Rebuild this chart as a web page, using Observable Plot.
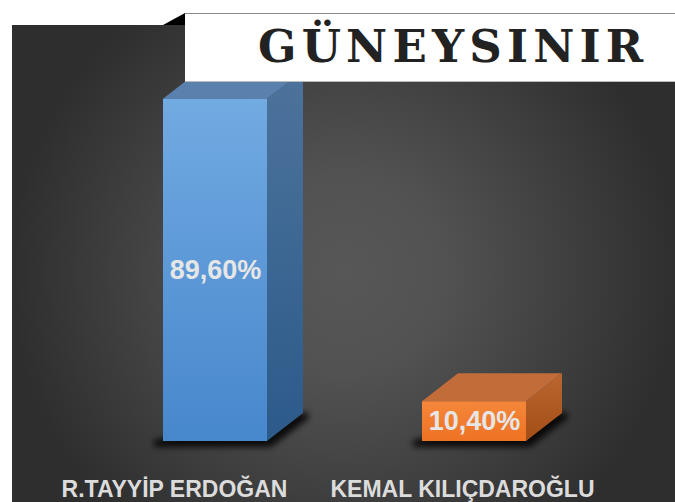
<!DOCTYPE html>
<html>
<head>
<meta charset="utf-8">
<script src="https://cdn.jsdelivr.net/npm/d3@7"></script>
<script src="https://cdn.jsdelivr.net/npm/@observablehq/plot@0.6"></script>
<style>
  html, body { margin: 0; padding: 0; background: #fff; }
  #wrap { position: relative; width: 675px; height: 502px; overflow: hidden; }
  #panel { position: absolute; left: 12px; top: 25px; right: 0; bottom: 0;
    background: radial-gradient(ellipse 335px 330px at 50% 52%, #575757 0%, #525252 30%, #434343 60%, #2e2e2e 100%); }
  #chart { position: absolute; left: 0; top: 0; }
  #titlebox { position: absolute; left: 185px; top: 13px; width: 490px; height: 69px; background: #fff;
    border-top: 1px solid #8a8a8a; border-bottom: 1px solid #bbb; box-sizing: border-box; }
  #titlebox span { position: absolute; left: 73px; top: 50%; transform: translateY(-52%);
    font-family: "DejaVu Serif", serif; font-weight: bold; font-size: 45px; letter-spacing: 5.2px; color: #222; white-space: nowrap; }
  #fold { position: absolute; left: 163px; top: 13px; width: 22px; height: 12px; background: #000;
    clip-path: polygon(0 100%, 100% 0, 100% 100%); }
</style>
</head>
<body>
<div id="wrap">
  <div id="panel"></div>
  <div id="chart"></div>
  <div id="fold"></div>
  <div id="titlebox"><span id="title"></span></div>
</div>
<script>
const titleText = "GÜNEYSINIR";
const candidates = ["R.TAYYİP ERDOĞAN", "KEMAL KILIÇDAROĞLU"];
const shares = [89.6, 10.4];
const faceColors = [
  {frontTop: "#72aae2", frontBottom: "#4787cc", sideTop: "#4d739c", sideBottom: "#2c5a8a", top: "#5a80ae"},
  {frontTop: "#f5873a", frontBottom: "#ee7224", sideTop: "#bb6530", sideBottom: "#a34e16", top: "#c26c3a"}
];

document.getElementById("title").textContent = titleText;

const data = candidates.map((name, i) => ({name, value: shares[i], i}));
const fmt = v => v.toFixed(2).replace(".", ",") + "%";
const depth = {dx: 36, dy: -28};

function bars3d(index, scales) {
  const x = scales.x, y = scales.y;
  const bw = typeof x.bandwidth === "function" ? x.bandwidth() : x.bandwidth;
  const g = d3.create("svg:g");
  const defs = g.append("defs");
  const f = defs.append("filter").attr("id", "shadowblur").attr("x", "-20%").attr("y", "-50%").attr("width", "140%").attr("height", "200%");
  f.append("feGaussianBlur").attr("stdDeviation", 3);
  data.forEach((d, k) => {
    const c = faceColors[k];
    const lf = defs.append("linearGradient").attr("id", "front" + k).attr("x1", 0).attr("y1", 0).attr("x2", 0).attr("y2", 1);
    lf.append("stop").attr("offset", "0%").attr("stop-color", c.frontTop);
    lf.append("stop").attr("offset", "100%").attr("stop-color", c.frontBottom);
    const ls = defs.append("linearGradient").attr("id", "side" + k).attr("x1", 0).attr("y1", 0).attr("x2", 0).attr("y2", 1);
    ls.append("stop").attr("offset", "0%").attr("stop-color", c.sideTop);
    ls.append("stop").attr("offset", "100%").attr("stop-color", c.sideBottom);
  });
  data.forEach((d, k) => {
    const x0 = x(d.name), x1 = x0 + bw;
    const yt = y(d.value), yb = y(0);
    const {dx, dy} = depth;
    const pts = a => a.map(p => p.join(",")).join(" ");
    g.append("polygon")
      .attr("points", pts([[x0 - 9, yb - 1], [x1 + dx + 4, yb + dy - 1], [x1 + dx + 6, yb + dy + 5], [x1 + 4, yb + 6], [x0 - 9, yb + 6]]))
      .attr("fill", "#000").attr("fill-opacity", 0.85).attr("filter", "url(#shadowblur)");
    g.append("polygon")
      .attr("points", pts([[x1, yt], [x1 + dx, yt + dy], [x1 + dx, yb + dy], [x1, yb]]))
      .attr("fill", `url(#side${k})`);
    g.append("polygon")
      .attr("points", pts([[x0, yt], [x0 + dx, yt + dy], [x1 + dx, yt + dy], [x1, yt]]))
      .attr("fill", faceColors[k].top);
    g.append("rect")
      .attr("x", x0).attr("y", yt).attr("width", bw).attr("height", yb - yt)
      .attr("fill", `url(#front${k})`);
  });
  return g.node();
}

const labelFont = "Liberation Sans, Arial, sans-serif";
const chart = Plot.plot({
  width: 675,
  height: 502,
  margin: 0,
  style: {background: "transparent", overflow: "visible"},
  x: {type: "band", domain: candidates, range: [7, 681], padding: 0.6, axis: null},
  y: {domain: [0, 100], range: [441, 59], axis: null},
  marks: [
    bars3d,
    Plot.text(data, {x: "name", y: d => d.value / 2, text: d => fmt(d.value),
      fill: "#e6e6e6", fontSize: 27, fontWeight: "bold", fontFamily: labelFont}),
    Plot.text([data[0]], {x: "name", y: 0, text: "name", dx: -41, dy: 48,
      fill: "#dcdcdc", fontSize: 23, fontWeight: "bold", fontFamily: labelFont, style: {letterSpacing: "0.3px"}}),
    Plot.text([data[1]], {x: "name", y: 0, text: "name", dx: -12, dy: 48,
      fill: "#dcdcdc", fontSize: 23, fontWeight: "bold", fontFamily: labelFont, style: {letterSpacing: "0.3px"}})
  ]
});
document.getElementById("chart").appendChild(chart);
</script>
</body>
</html>
